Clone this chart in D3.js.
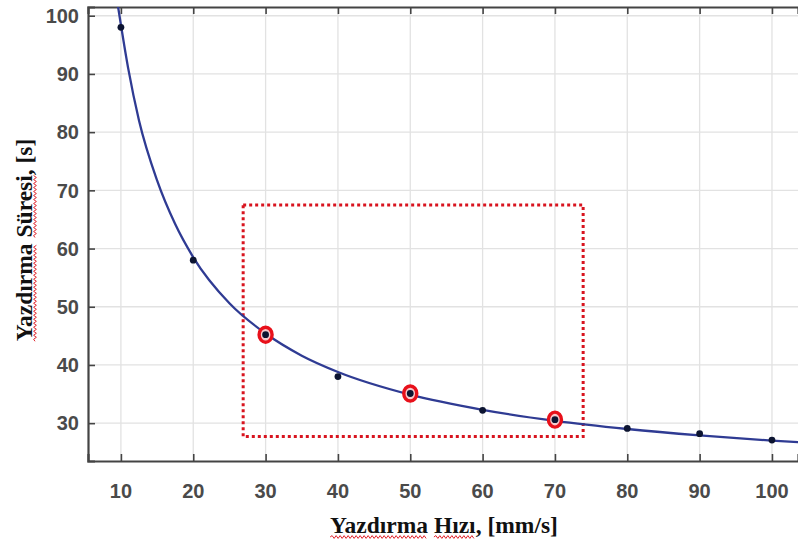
<!DOCTYPE html>
<html lang="tr">
<head>
<meta charset="UTF-8">
<title>Yazdırma Süresi</title>
<script src="https://cdn.jsdelivr.net/npm/d3@7"></script>
<style>
  body { margin: 0; background: #fff; }
  .tick-label { font: bold 20px "Liberation Sans", Arial, sans-serif; fill: #4a4a4a; }
  .axis-title { font: bold 23.5px "Liberation Serif", "Times New Roman", serif; fill: #111; }
</style>
</head>
<body>
<div class="app"></div>
<script>
// measured points (speed mm/s -> time s)
var speed = [10, 20, 30, 40, 50, 60, 70, 80, 90, 100];
var time  = [98, 58, 45.2, 38, 35.1, 32.2, 30.6, 29.1, 28.2, 27.1];
// highlighted speeds (red rings)
var marked = [30, 50, 70];
// fitted curve
var fitSpeed = [9.6, 11, 12.5, 15, 17.5, 20, 25, 30, 35, 40, 50, 60, 70, 80, 90, 100, 104];
var fitTime  = [101.6, 91, 82, 71.7, 64.2, 58.5, 50.6, 45.4, 41.6, 38.8, 34.9, 32.3, 30.4, 29, 27.9, 27, 26.7];
// dotted selection box: [speed0, speed1], [time0, time1]
var boxSpeed = [26.9, 73.9];
var boxTime = [27.7, 67.5];
var xTicks = [10, 20, 30, 40, 50, 60, 70, 80, 90, 100];
var yTicks = [30, 40, 50, 60, 70, 80, 90, 100];

var width = 798, height = 541,
    margin = {top: 7, right: 0, bottom: 80, left: 88},
    w = width - margin.left - margin.right,
    h = height - margin.top - margin.bottom;

var svg = d3.select('.app').append('svg')
    .attr('width', width).attr('height', height);

var x = d3.scaleLinear().domain([5.45, 103.6]).range([margin.left, margin.left + w]);
var y = d3.scaleLinear().domain([23.5, 101.5]).range([margin.top + h, margin.top]);

// grid
svg.append('g').selectAll('line').data(xTicks).enter().append('line')
    .attr('x1', d => x(d)).attr('x2', d => x(d))
    .attr('y1', margin.top).attr('y2', margin.top + h)
    .attr('stroke', '#e2e2e2').attr('stroke-width', 1.3);
svg.append('g').selectAll('line').data(yTicks).enter().append('line')
    .attr('y1', d => y(d)).attr('y2', d => y(d))
    .attr('x1', margin.left).attr('x2', margin.left + w)
    .attr('stroke', '#e2e2e2').attr('stroke-width', 1.3);

// axes (ticks pointing inwards)
var axisColor = '#444';
var gx = svg.append('g').attr('transform', 'translate(0,' + (margin.top + h) + ')')
    .call(d3.axisBottom(x).tickValues(xTicks).tickSize(-7).tickPadding(0).tickFormat(''));
var gxTop = svg.append('g').attr('transform', 'translate(0,' + margin.top + ')')
    .call(d3.axisTop(x).tickValues(xTicks).tickSize(-7).tickFormat(''));
var gy = svg.append('g').attr('transform', 'translate(' + margin.left + ',0)')
    .call(d3.axisLeft(y).tickValues(yTicks).tickSize(-7).tickFormat(''));
[gx, gxTop, gy].forEach(function (g) {
    g.select('.domain').attr('stroke', axisColor).attr('stroke-width', 2.2);
    g.selectAll('.tick line').attr('stroke', axisColor).attr('stroke-width', 1.6);
});

// tick labels
svg.append('g').selectAll('text').data(xTicks).enter().append('text')
    .attr('class', 'tick-label')
    .attr('x', d => x(d)).attr('y', 498)
    .attr('text-anchor', 'middle')
    .text(d => d);
svg.append('g').selectAll('text').data(yTicks).enter().append('text')
    .attr('class', 'tick-label')
    .attr('x', 79).attr('y', d => y(d)).attr('dy', '0.36em')
    .attr('text-anchor', 'end')
    .text(d => d);

// selection box
svg.append('rect')
    .attr('x', x(boxSpeed[0])).attr('y', y(boxTime[1]))
    .attr('width', x(boxSpeed[1]) - x(boxSpeed[0]))
    .attr('height', y(boxTime[0]) - y(boxTime[1]))
    .attr('fill', 'none').attr('stroke', '#d8141f')
    .attr('stroke-width', 3).attr('stroke-dasharray', '3,3');

// fitted curve
svg.append('clipPath').attr('id', 'plot-clip').append('rect')
    .attr('x', margin.left).attr('y', margin.top).attr('width', w).attr('height', h);
svg.append('path')
    .datum(fitSpeed.map((s, i) => [s, fitTime[i]]))
    .attr('clip-path', 'url(#plot-clip)')
    .attr('fill', 'none').attr('stroke', '#2f3b93').attr('stroke-width', 2.3)
    .attr('d', d3.line().x(d => x(d[0])).y(d => y(d[1])).curve(d3.curveMonotoneX));

// red rings
var pts = speed.map((s, i) => ({s: s, t: time[i]}));
svg.append('g').selectAll('ellipse').data(pts.filter(d => marked.indexOf(d.s) >= 0))
    .enter().append('ellipse')
    .attr('cx', d => x(d.s)).attr('cy', d => y(d.t))
    .attr('rx', 6.5).attr('ry', 7.5)
    .attr('fill', '#f6c9cc').attr('stroke', '#e8101a').attr('stroke-width', 3.4);

// data points
svg.append('g').selectAll('circle').data(pts).enter().append('circle')
    .attr('cx', d => x(d.s)).attr('cy', d => y(d.t))
    .attr('r', 3.4).attr('fill', '#0c1431');

// wavy spell-check underline
function wavy(x0, x1, yy) {
    var p = 'M' + x0 + ',' + yy, up = true;
    for (var xx = x0 + 2; xx <= x1; xx += 2) {
        p += 'L' + xx + ',' + (yy + (up ? -1.4 : 1.4));
        up = !up;
    }
    return p;
}
function underline(g, text, ranges, yy) {
    var node = text.node();
    ranges.forEach(function (r) {
        var a = node.getStartPositionOfChar(r[0]).x;
        var b = node.getEndPositionOfChar(r[1]).x;
        g.append('path').attr('d', wavy(a, b, yy))
            .attr('fill', 'none').attr('stroke', '#e0242c').attr('stroke-width', 1);
    });
}

// axis titles
var gxt = svg.append('g').attr('transform', 'translate(444,533)');
var xt = gxt.append('text').attr('class', 'axis-title')
    .attr('text-anchor', 'middle').text('Yazdırma Hızı, [mm/s]');
underline(gxt, xt, [[0, 7], [9, 12]], 4);

var gyt = svg.append('g').attr('transform', 'translate(32,240) rotate(-90)');
var yt = gyt.append('text').attr('class', 'axis-title')
    .attr('text-anchor', 'middle').text('Yazdırma Süresi, [s]');
underline(gyt, yt, [[0, 7], [9, 14]], 3);
</script>
</body>
</html>
